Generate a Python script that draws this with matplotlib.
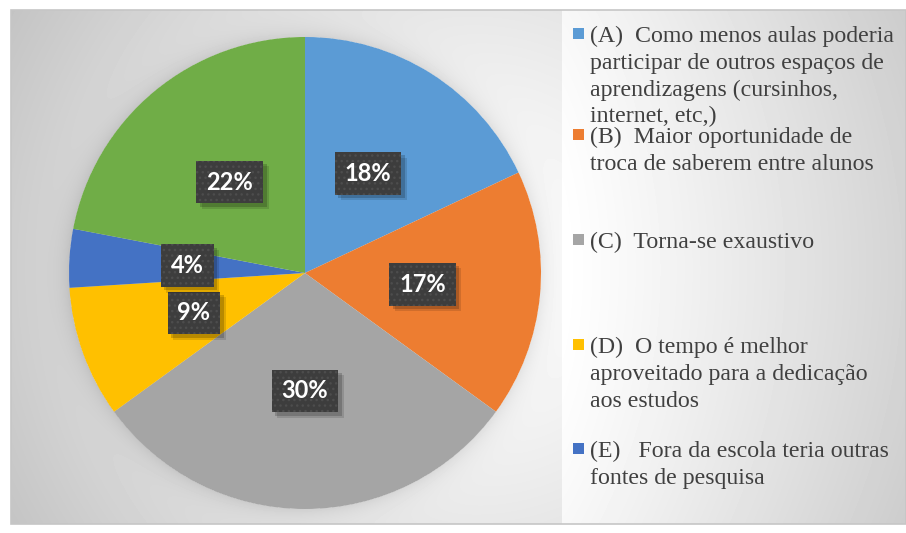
import numpy as np
import matplotlib.pyplot as plt
import matplotlib.patheffects as pe
from matplotlib.patches import Rectangle

# dados do gráfico
categorias = ['(A)', '(B)', '(C)', '(D)', '(E)', '(F)']
valores = [18, 17, 30, 9, 4, 22]
cores = ['#5B9BD5', '#ED7D31', '#A5A5A5', '#FFC000', '#4472C4', '#70AD47']
legenda = [
    ['(A)  Como menos aulas poderia', 'participar de outros espaços de',
     'aprendizagens (cursinhos,', 'internet, etc,)'],
    ['(B)  Maior oportunidade de', 'troca de saberem entre alunos'],
    ['(C)  Torna-se exaustivo'],
    ['(D)  O tempo é melhor', 'aproveitado para a dedicação', 'aos estudos'],
    ['(E)   Fora da escola teria outras', 'fontes de pesquisa'],
]

W, H = 906, 533
CX, CY, R = 305, 273, 236

fig = plt.figure(figsize=(W / 100, H / 100), dpi=100)

# fundo em coordenadas de pixel
bg = fig.add_axes([0, 0, 1, 1])
bg.set_xlim(0, W)
bg.set_ylim(H, 0)
bg.axis('off')

yy, xx = np.mgrid[0:H, 0:W] + 0.5
d = np.hypot(xx - 470, yy - 270)
img = 1 - 0.24 * np.clip(d / 540, 0, 1) ** 1.3
leg = xx >= 562
img[leg] = 1 - 0.17 * ((xx[leg] - 562) / 344) ** 1.1 - 0.03 * (np.abs(yy[leg] - 270) / 260) ** 2
dp = np.hypot(xx - CX, yy - CY) - R
sombra = (dp > 0) & (~leg)
img[sombra] -= 0.08 * np.exp(-dp[sombra] / 10)
fora = (xx < 11) | (yy < 10) | (yy > 524)
img[fora] = 1
bg.imshow(img, cmap='gray', vmin=0, vmax=1, extent=[0, W, H, 0], aspect='auto', zorder=0)
bg.add_patch(Rectangle((11, 10), W - 11, 514, fill=False, ec='#c6c6c6', lw=1.2, zorder=1))

# pizza
ax = fig.add_axes([(CX - R) / W, (H - CY - R) / H, 2 * R / W, 2 * R / H])
wedges, texts, autotexts = ax.pie(
    valores, colors=cores, startangle=90, counterclock=False,
    autopct='%1.0f%%', pctdistance=0.5, labels=None,
    wedgeprops=dict(linewidth=0),
    textprops=dict(color='white', fontsize=17, fontweight='bold', family='Lato'),
)
ax.set_xlim(-1, 1)
ax.set_ylim(-1, 1)
ax.axis('off')

for t in autotexts:
    t.set_bbox(dict(boxstyle='square,pad=0.42', fc='#3d3d3d', ec='#4d4d4d', lw=0, hatch='...'))
    t.get_bbox_patch().set_path_effects([
        pe.SimplePatchShadow(offset=(4, -4), shadow_rgbFace='black', alpha=0.12, hatch=None),
        pe.SimplePatchShadow(offset=(2.5, -2.5), shadow_rgbFace='black', alpha=0.18, hatch=None),
        pe.Normal(),
    ])
    t.set_zorder(5)

# legenda
bases = [42, 143, 248, 353, 457]
passo = 26.8
for linhas, base, cor in zip(legenda, bases, cores):
    bg.add_patch(Rectangle((573, base - 14.5), 11, 11, fc=cor, ec='none', zorder=2))
    for i, linha in enumerate(linhas):
        bg.text(590, base + i * passo, linha, fontsize=17.2, family='Liberation Serif',
                color='#404040', va='baseline', ha='left', zorder=2)

fig.savefig('out.png', dpi=100)
